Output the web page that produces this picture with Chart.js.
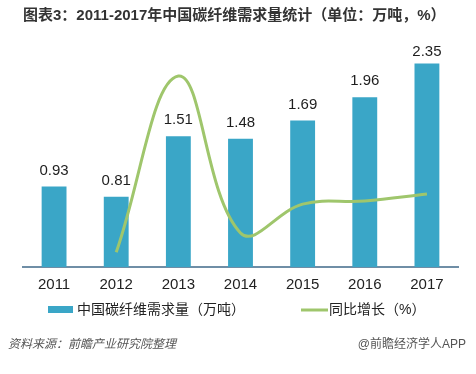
<!DOCTYPE html>
<html>
<head>
<meta charset="utf-8">
<script src="https://cdn.jsdelivr.net/npm/chart.js@4.4.0/dist/chart.umd.min.js"></script>
<style>
    body { margin: 0; background: #fff; }
    canvas { display: block; }
</style>
</head>
<body>
<canvas id="demandChart" width="476" height="374"></canvas>
<script>
    const years = ['2011', '2012', '2013', '2014', '2015', '2016', '2017'];
    const demand = [0.93, 0.81, 1.51, 1.48, 1.69, 1.96, 2.35];          // 万吨
    const growth = [null, -12.9, 86.4, -2.0, 14.2, 16.0, 19.9];        // %

    const barLabel = '中国碳纤维需求量（万吨）';
    const lineLabel = '同比增长（%）';

    const fontFamily = '"Liberation Sans", Arial, "Noto Sans CJK SC", sans-serif';
    const barColor = '#3aa6c7';
    const lineColor = '#9fc66c';

    // value labels above the bars
    const barValuePlugin = {
        id: 'barValues',
        afterDatasetsDraw(chart) {
            const ctx = chart.ctx;
            const meta = chart.getDatasetMeta(0);
            ctx.save();
            ctx.font = '15px ' + fontFamily;
            ctx.fillStyle = '#1e1e1e';
            ctx.textAlign = 'center';
            ctx.textBaseline = 'middle';
            meta.data.forEach(function (bar, i) {
                var y = Math.max(bar.y - 16, chart.chartArea.top + 12);
                ctx.fillText(demand[i].toFixed(2), bar.x, y);
            });
            ctx.restore();
        }
    };

    // legend and source line at the bottom
    const footerPlugin = {
        id: 'footer',
        afterDraw(chart) {
            const ctx = chart.ctx;
            ctx.save();
            ctx.textBaseline = 'middle';

            ctx.fillStyle = barColor;
            ctx.fillRect(48, 306, 25, 7);
            ctx.font = '14px ' + fontFamily;
            ctx.fillStyle = '#222';
            ctx.textAlign = 'left';
            ctx.fillText(barLabel, 77, 310);

            ctx.strokeStyle = lineColor;
            ctx.lineWidth = 3;
            ctx.beginPath();
            ctx.moveTo(301, 310);
            ctx.lineTo(328, 310);
            ctx.stroke();
            ctx.fillText(lineLabel, 329, 310);

            ctx.fillStyle = '#555';
            ctx.font = 'italic 12px ' + fontFamily;
            ctx.fillText('资料来源：前瞻产业研究院整理', 8, 345);
            ctx.font = '12px ' + fontFamily;
            ctx.textAlign = 'right';
            ctx.fillText('@前瞻经济学人APP', 466, 345);
            ctx.restore();
        }
    };

    const ctx = document.getElementById('demandChart').getContext('2d');
    new Chart(ctx, {
        type: 'bar',
        data: {
            labels: years,
            datasets: [{
                label: barLabel,
                data: demand,
                backgroundColor: barColor,
                barPercentage: 0.4,
                categoryPercentage: 1.0,
                yAxisID: 'y',
                order: 2
            }, {
                type: 'line',
                label: lineLabel,
                data: growth,
                borderColor: lineColor,
                borderWidth: 3,
                tension: 0.4,
                pointRadius: 0,
                fill: false,
                yAxisID: 'y1',
                order: 1
            }]
        },
        options: {
            responsive: false,
            animation: false,
            layout: {
                padding: { left: 23, right: 18, top: 0, bottom: 71 }
            },
            plugins: {
                legend: { display: false },
                tooltip: { enabled: false },
                title: {
                    display: true,
                    text: '图表3：2011-2017年中国碳纤维需求量统计（单位：万吨，%）',
                    align: 'start',
                    color: '#333',
                    font: { family: fontFamily, size: 15, weight: 'bold' },
                    padding: { top: 7, bottom: 15 }
                }
            },
            scales: {
                x: {
                    offset: true,
                    grid: { display: false, drawTicks: false },
                    border: { display: true, color: '#6f8ea6', width: 2 },
                    ticks: {
                        color: '#222',
                        padding: 9,
                        font: { family: fontFamily, size: 15 }
                    }
                },
                y: {
                    display: false,
                    min: 0,
                    max: 2.62
                },
                y1: {
                    display: false,
                    min: -21.2,
                    max: 106.7
                }
            }
        },
        plugins: [barValuePlugin, footerPlugin]
    });
</script>
</body>
</html>
